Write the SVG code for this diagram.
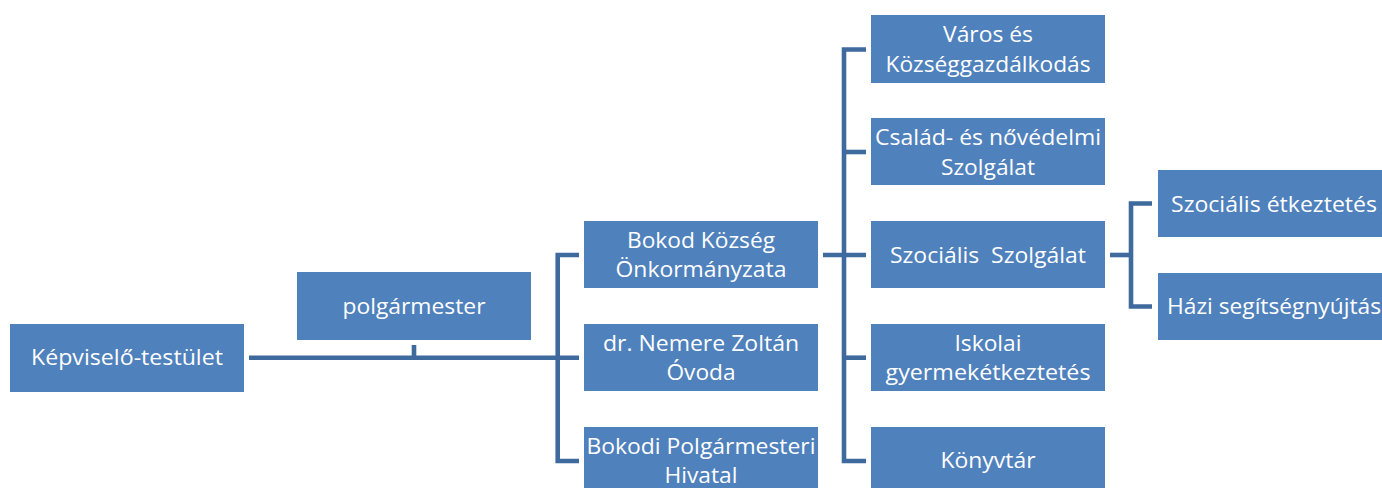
<svg xmlns="http://www.w3.org/2000/svg" width="1382" height="488" viewBox="0 0 1382 488">
<style>
.box{fill:#4F81BD;}
.t{font-family:"Open Sans","Noto Sans",sans-serif;font-size:22.5px;fill:#FFFFFF;text-anchor:middle;white-space:pre;}
.c{fill:none;stroke:#3F6A9E;stroke-width:4.6;stroke-linejoin:miter;stroke-linecap:butt;}
</style>
<rect width="1382" height="488" fill="#FFFFFF"/>
<g id="connectors">
<path class="c" d="M249,357.7 H579"/>
<path class="c" d="M414,345 V357.7"/>
<path class="c" d="M579,255 H557.7 V461 H579"/>
<path class="c" d="M823,255 H866"/>
<path class="c" d="M866,49.5 H844 V461 H866"/>
<path class="c" d="M844,152 H866"/>
<path class="c" d="M844,357.7 H866"/>
<path class="c" d="M1110,255 H1131"/>
<path class="c" d="M1152,203.5 H1131 V306.5 H1152"/>
</g>
<g id="kepviselo">
<rect class="box" x="10" y="324" width="234" height="68"/>
<text class="t" x="127" y="365" textLength="192" lengthAdjust="spacingAndGlyphs">Képviselő-testület</text>
</g>
<g id="polgarmester">
<rect class="box" x="297" y="272" width="234" height="68"/>
<text class="t" x="414" y="314" textLength="143" lengthAdjust="spacingAndGlyphs">polgármester</text>
</g>
<g id="onkormanyzat">
<rect class="box" x="584" y="221" width="234" height="67"/>
<text class="t" x="701" y="247.5" textLength="148" lengthAdjust="spacingAndGlyphs">Bokod Község</text>
<text class="t" x="701" y="277" textLength="171" lengthAdjust="spacingAndGlyphs">Önkormányzata</text>
</g>
<g id="ovoda">
<rect class="box" x="584" y="324" width="234" height="67"/>
<text class="t" x="701" y="350.5" textLength="196" lengthAdjust="spacingAndGlyphs">dr. Nemere Zoltán</text>
<text class="t" x="701" y="380" textLength="69" lengthAdjust="spacingAndGlyphs">Óvoda</text>
</g>
<g id="hivatal">
<rect class="box" x="584" y="427" width="234" height="67"/>
<text class="t" x="701" y="453.5" textLength="229" lengthAdjust="spacingAndGlyphs">Bokodi Polgármesteri</text>
<text class="t" x="701" y="483" textLength="73" lengthAdjust="spacingAndGlyphs">Hivatal</text>
</g>
<g id="varos">
<rect class="box" x="871" y="15" width="234" height="68"/>
<text class="t" x="988" y="41.7" textLength="90" lengthAdjust="spacingAndGlyphs">Város és</text>
<text class="t" x="988" y="71.7" textLength="205" lengthAdjust="spacingAndGlyphs">Községgazdálkodás</text>
</g>
<g id="csalad">
<rect class="box" x="871" y="118" width="234" height="67"/>
<text class="t" x="988" y="145" textLength="226" lengthAdjust="spacingAndGlyphs">Család- és nővédelmi</text>
<text class="t" x="988" y="175" textLength="94" lengthAdjust="spacingAndGlyphs">Szolgálat</text>
</g>
<g id="szocialis">
<rect class="box" x="871" y="221" width="234" height="67"/>
<text class="t" x="988" y="263" textLength="196" lengthAdjust="spacingAndGlyphs">Szociális  Szolgálat</text>
</g>
<g id="iskolai">
<rect class="box" x="871" y="324" width="234" height="67"/>
<text class="t" x="988" y="350.5" textLength="67" lengthAdjust="spacingAndGlyphs">Iskolai</text>
<text class="t" x="988" y="379.5" textLength="205" lengthAdjust="spacingAndGlyphs">gyermekétkeztetés</text>
</g>
<g id="konyvtar">
<rect class="box" x="871" y="427" width="234" height="67"/>
<text class="t" x="988" y="468" textLength="95" lengthAdjust="spacingAndGlyphs">Könyvtár</text>
</g>
<g id="etkeztetes">
<rect class="box" x="1158" y="170" width="234" height="67"/>
<text class="t" x="1274" y="211.7" textLength="206" lengthAdjust="spacingAndGlyphs">Szociális étkeztetés</text>
</g>
<g id="hazi">
<rect class="box" x="1158" y="273" width="234" height="67"/>
<text class="t" x="1274" y="314.3" textLength="214" lengthAdjust="spacingAndGlyphs">Házi segítségnyújtás</text>
</g>
</svg>
